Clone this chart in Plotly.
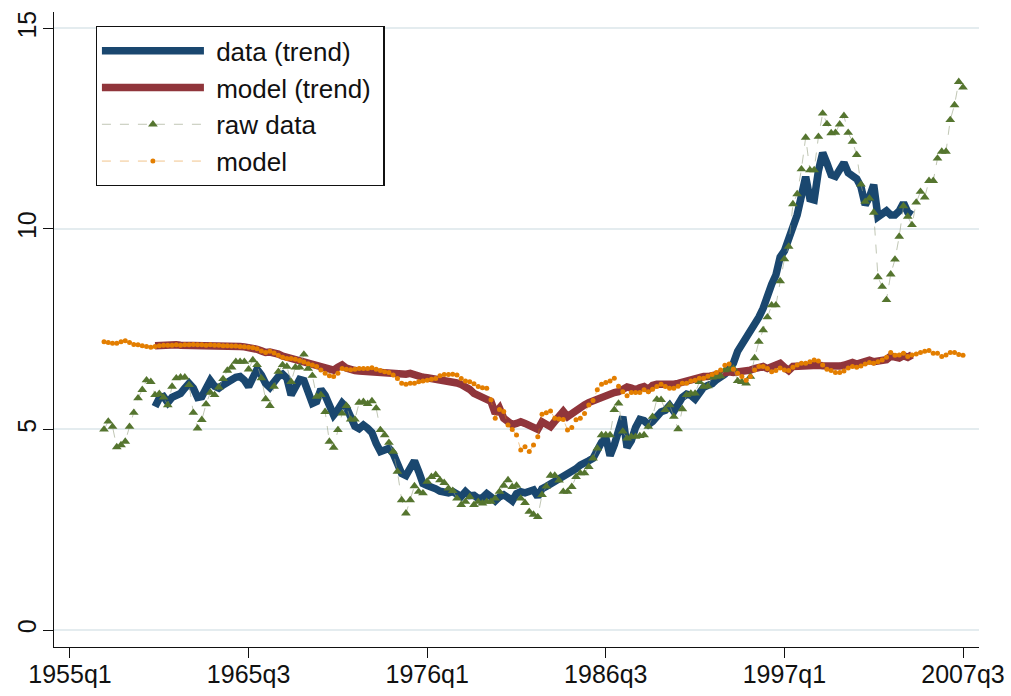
import numpy as np
import plotly.graph_objects as go

# Quarter index: 0 = 1955q1, one step per quarter
tick_quarters = [0, 42, 84, 126, 168, 210]
tick_labels = ["1955q1", "1965q3", "1976q1", "1986q3", "1997q1", "2007q3"]
y_ticks = [0, 5, 10, 15]
series_names = ["data (trend)", "model (trend)", "raw data", "model"]

raw_start = 8     # 1957q1
raw_data = [
    5.00, 5.20, 5.07, 4.56, 4.61, 4.70, 5.07, 5.42, 5.78, 5.99,
    6.23, 6.19, 5.86, 5.89, 5.80, 5.61, 6.07, 6.28, 6.30, 6.30,
    6.11, 5.42, 5.03, 5.24, 5.63, 5.92, 5.86, 6.05, 6.26, 6.47,
    6.55, 6.69, 6.69, 6.69, 6.50, 6.73, 6.61, 6.28, 5.76, 5.59,
    6.07, 6.44, 6.61, 6.57, 6.19, 6.55, 6.55, 6.87, 6.52, 6.34,
    5.82,
    5.86, 5.44, 4.70, 4.55, 4.99, 5.40, 5.59, 5.25, 5.25, 5.67,
    5.69, 5.64, 5.71, 5.53, 4.99, 4.86, 4.67, 4.45, 3.95, 3.24,
    2.91, 3.24, 3.59, 3.45, 3.41, 3.70, 3.82, 3.87, 3.74, 3.67,
    3.53, 3.47, 3.28, 3.12, 3.20, 3.32, 3.12, 3.20, 3.16, 3.20,
    3.20, 3.28, 3.45, 3.60, 3.74, 3.57, 3.60, 3.28, 3.17, 2.95,
    2.88, 2.82, 3.37, 3.58, 3.85, 3.85, 3.73,
    3.45, 3.45, 3.57, 3.82, 3.91, 3.91, 4.07, 4.28, 4.53, 4.86,
    4.86, 4.86, 5.49, 5.65, 4.95, 4.78, 4.82, 4.82, 4.84, 4.86,
    5.07, 5.32, 5.75, 5.74, 5.49, 5.61, 5.32, 5.01, 5.51, 5.86,
    5.90, 5.90, 6.19, 6.07, 6.08, 6.30, 6.32, 6.33, 6.48, 6.50,
    6.52, 6.21, 6.19, 6.15, 6.32, 6.78, 7.19, 7.48,
    7.80,
    8.10, 8.10, 8.70, 9.25, 9.56, 10.62, 10.87, 11.49, 12.28, 11.47,
    11.47, 12.30, 12.88, 12.62, 12.39, 12.40, 12.61, 12.82, 12.40, 12.18,
    11.85, 11.11, 10.68, 10.76, 10.41, 8.80, 8.56, 8.23, 8.87, 9.24,
    9.81, 10.57, 10.31, 10.10, 10.66, 10.93, 10.79, 11.20, 11.20, 11.76,
    11.93, 11.93, 12.72, 13.09, 13.67, 13.53,
]

model_start = 8   # 1957q1
model = [
    7.19, 7.17, 7.15, 7.15, 7.19, 7.21, 7.17, 7.12, 7.11, 7.09,
    7.07, 7.05, 7.07, 7.09, 7.10,
    7.10, 7.10, 7.11, 7.10, 7.11, 7.11, 7.12, 7.11, 7.11, 7.10,
    7.11, 7.10, 7.10, 7.09, 7.09, 7.08, 7.08,
    7.07, 7.06, 7.05, 7.04, 7.01, 6.96, 6.92, 6.95, 6.91, 6.85,
    6.80, 6.77, 6.77, 6.75, 6.72, 6.68, 6.64, 6.61, 6.57,
    6.48, 6.40, 6.34, 6.32, 6.40, 6.52, 6.50, 6.49, 6.50, 6.52,
    6.52, 6.52, 6.54, 6.50, 6.47, 6.44, 6.42, 6.36, 6.27, 6.15,
    6.13, 6.15, 6.15, 6.19, 6.21, 6.23, 6.25, 6.27, 6.34, 6.37,
    6.37, 6.38, 6.36, 6.27, 6.21, 6.19, 6.14, 6.07, 6.04, 6.03,
    5.74, 5.28, 5.50, 5.45, 5.11, 5.00, 4.86, 4.49, 4.57, 4.45,
    4.61, 4.82,
    5.38, 5.42, 5.46, 5.28, 5.26, 5.25, 4.99, 5.05, 5.24, 5.28,
    5.40, 5.61, 5.72, 5.99, 6.13, 6.17, 6.21, 6.28, 6.08, 5.94,
    5.84, 5.92, 5.92, 5.92, 5.99, 5.94, 6.00, 6.07, 6.13, 6.07,
    6.03, 6.03, 6.08, 6.15, 6.15, 6.21, 6.23, 6.28, 6.28, 6.33,
    6.37, 6.42, 6.48, 6.60, 6.63, 6.50, 6.40, 6.32, 6.23, 6.32,
    6.48, 6.57, 6.57, 6.52,
    6.44, 6.47, 6.53, 6.48, 6.47, 6.55, 6.61, 6.65, 6.65, 6.69,
    6.73, 6.71, 6.61, 6.50, 6.47, 6.42, 6.42, 6.46, 6.53, 6.57,
    6.55, 6.58, 6.63, 6.67, 6.65, 6.69, 6.73, 6.80, 6.92, 6.85,
    6.86, 6.90, 6.82, 6.86, 6.88, 6.92, 6.95, 6.97, 6.90, 6.90,
    6.82, 6.86, 6.92, 6.92, 6.87, 6.85,
]

trend_start = 20  # 1960q1
data_trend = [
    5.57, 5.78, 5.82, 5.67, 5.80, 5.84, 5.90, 6.03, 6.15, 6.03,
    5.80, 5.82, 6.08, 6.22, 6.08, 6.03, 6.11, 6.19, 6.25, 6.30,
    6.32, 6.23, 6.07, 6.30, 6.50, 6.36, 6.15, 6.05, 6.19, 6.32,
    6.38, 6.28, 5.86,
    6.08, 6.25, 6.22, 5.95, 5.65, 5.70, 6.00, 5.85, 5.55, 5.36,
    5.49, 5.66, 5.55, 5.28, 5.08, 5.02, 5.11, 5.03, 4.92, 4.65,
    4.45, 4.49, 4.53, 4.40, 4.15, 3.90, 3.85, 4.03, 4.22, 3.95,
    3.65, 3.60, 3.58, 3.52, 3.46, 3.42, 3.42, 3.45, 3.38, 3.33,
    3.45, 3.35, 3.36, 3.28, 3.30, 3.40, 3.32, 3.22, 3.32, 3.37,
    3.30, 3.22, 3.40, 3.45, 3.42, 3.45, 3.49, 3.32, 3.52, 3.58,
    3.64, 3.70, 3.74, 3.80, 3.85, 3.93, 4.02, 4.11, 4.15, 4.22,
    4.28,
    4.50, 4.68, 4.80, 4.35, 4.62, 4.95, 5.32, 4.55, 4.72, 5.05,
    5.25, 5.22, 5.12, 5.20, 5.36, 5.44, 5.48, 5.60, 5.45, 5.62,
    5.80, 5.88, 5.85, 5.76, 5.95, 6.05, 6.10, 6.14, 6.24, 6.30,
    6.38, 6.50, 6.65, 6.95, 7.12, 7.22, 7.40, 7.55, 7.80, 8.02,
    8.38, 8.62, 8.85, 9.30, 9.45, 9.70, 10.05, 10.35, 10.75, 11.30,
    10.75, 10.72, 11.45, 11.90, 11.64, 11.35, 11.31, 11.45, 11.65, 11.40,
    11.33, 11.25, 11.05, 10.60, 10.80, 11.10, 10.30, 10.40, 10.45, 10.35,
    10.35, 10.45, 10.65, 10.42, 10.35,
]

model_trend = [
    7.09, 7.10, 7.10, 7.10, 7.10, 7.11, 7.10, 7.10, 7.11, 7.11,
    7.11, 7.11, 7.10, 7.10, 7.10, 7.09, 7.09, 7.09, 7.08, 7.08,
    7.07, 7.06, 7.05, 7.03, 7.00, 6.96, 6.92, 6.93, 6.92, 6.88,
    6.83, 6.80, 6.78, 6.76, 6.73, 6.70, 6.66, 6.62, 6.58, 6.55,
    6.52, 6.50, 6.48, 6.55, 6.61, 6.53, 6.48, 6.47, 6.46, 6.45,
    6.44, 6.43, 6.42, 6.41, 6.40, 6.38, 6.37, 6.36, 6.35, 6.38,
    6.40, 6.36, 6.32, 6.30, 6.29, 6.27, 6.26, 6.25, 6.24, 6.23,
    6.20, 6.16, 6.12, 6.08, 6.00, 5.90, 5.84, 5.80, 5.76, 5.70,
    5.40, 5.53, 5.28, 5.18, 5.12, 5.15, 5.19, 5.15, 5.10, 5.07,
    5.00, 5.19, 5.15, 5.07, 5.20, 5.30, 5.45, 5.32, 5.40, 5.49,
    5.55, 5.61, 5.67, 5.72, 5.76, 5.78, 5.82, 5.88, 5.92, 5.94,
    6.00, 6.06, 6.03, 5.99, 6.04, 6.07, 6.00, 6.10, 6.13, 6.12,
    6.11, 6.12, 6.13, 6.15, 6.18, 6.22, 6.24, 6.26, 6.29, 6.32,
    6.32, 6.35, 6.37, 6.40, 6.42, 6.44, 6.42, 6.43, 6.44, 6.44,
    6.48, 6.52, 6.57, 6.57, 6.52, 6.55, 6.60, 6.65, 6.55, 6.47,
    6.57, 6.58, 6.58, 6.57, 6.59, 6.61, 6.60, 6.59, 6.58, 6.59,
    6.59, 6.58, 6.60, 6.64, 6.67, 6.63, 6.65, 6.69, 6.73, 6.69,
    6.71, 6.72, 6.74, 6.83, 6.78, 6.78, 6.84, 6.80, 6.86,
]


def quarters(start, values):
    return np.arange(start, start + len(values))


def legend_label(text):
    # non-breaking spaces widen the gap after the legend symbol and the box's right padding
    return "\u00a0" + text + "\u00a0"


NAVY = "#1A476F"
MAROON = "#90353B"
GREEN = "#55752F"
ORANGE = "#E37E00"
INK = "#111111"
FONT = "Liberation Sans, Arial, sans-serif"

fig = go.Figure()

fig.add_trace(go.Scatter(
    x=quarters(trend_start, data_trend), y=data_trend,
    name=legend_label(series_names[0]),
    mode="lines", line=dict(color=NAVY, width=7.5), legendgroup="a",
))
fig.add_trace(go.Scatter(
    x=quarters(trend_start, model_trend), y=model_trend,
    name=legend_label(series_names[1]),
    mode="lines", line=dict(color=MAROON, width=7.5), legendgroup="b",
))
fig.add_trace(go.Scatter(
    x=quarters(raw_start, raw_data), y=raw_data,
    name=legend_label(series_names[2]),
    mode="lines+markers",
    line=dict(color="rgba(150,160,130,0.6)", width=1, dash="dash"),
    marker=dict(symbol="triangle-up", size=8.5, color=GREEN),
    legendgroup="c",
))
fig.add_trace(go.Scatter(
    x=quarters(model_start, model), y=model,
    name=legend_label(series_names[3]),
    mode="lines+markers",
    line=dict(color="rgba(227,126,0,0.45)", width=1, dash="dash"),
    marker=dict(symbol="circle", size=5, color=ORANGE),
    legendgroup="d",
))

fig.update_layout(
    width=1011, height=696,
    margin=dict(l=54, r=32, t=12, b=49),
    paper_bgcolor="white", plot_bgcolor="white",
    font=dict(family=FONT, size=25, color=INK),
    showlegend=True,
    legend=dict(
        x=0.045, y=0.978, xanchor="left", yanchor="top",
        bgcolor="white", bordercolor=INK, borderwidth=1.3,
        font=dict(family=FONT, size=26, color=INK),
        itemwidth=102, tracegroupgap=3, traceorder="normal",
    ),
)

fig.update_xaxes(
    range=[-3.76, 213.76], automargin=False,
    tickmode="array", tickvals=tick_quarters, ticktext=tick_labels,
    ticks="outside", ticklen=10, tickwidth=1.3, tickcolor=INK,
    showline=True, linecolor=INK, linewidth=1.3,
    showgrid=False, zeroline=False, ticklabelstandoff=-5,
    tickfont=dict(family=FONT, size=25, color=INK),
)
fig.update_yaxes(
    range=[-0.424, 15.41], automargin=False,
    tickmode="array", tickvals=y_ticks,
    ticks="outside", ticklen=10, tickwidth=1.3, tickcolor=INK,
    showline=True, linecolor=INK, linewidth=1.3,
    showgrid=True, gridcolor="#E4ECEF", gridwidth=2, zeroline=False,
    tickangle=-90, ticklabelstandoff=-3,
    tickfont=dict(family=FONT, size=25, color=INK),
)

fig.write_html("out.html")
